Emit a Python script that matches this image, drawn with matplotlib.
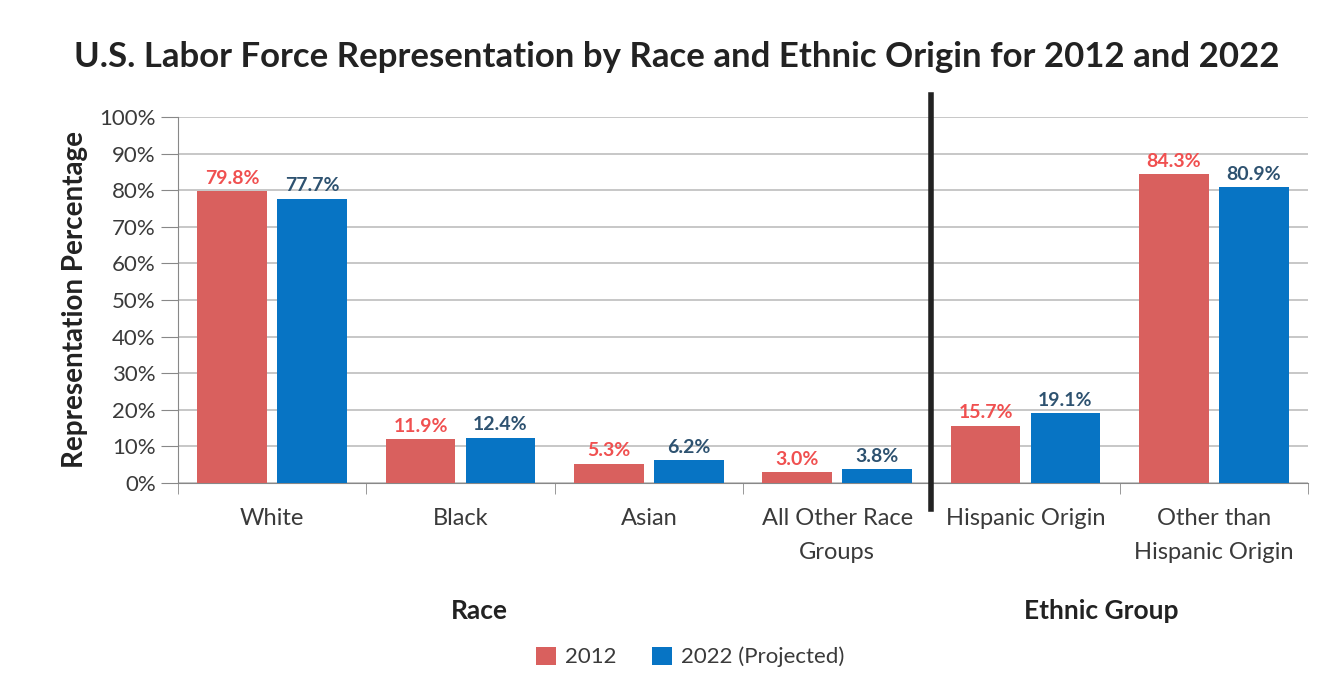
import matplotlib
matplotlib.use("Agg")
import matplotlib.pyplot as plt
import numpy as np

categories = ["White", "Black", "Asian", "All Other Race\nGroups", "Hispanic Origin", "Other than\nHispanic Origin"]
values_2012 = [79.8, 11.9, 5.3, 3.0, 15.7, 84.3]
values_2022 = [77.7, 12.4, 6.2, 3.8, 19.1, 80.9]
series_names = ["2012", "2022 (Projected)"]
group_names = ["Race", "Ethnic Group"]
yticks = [0, 10, 20, 30, 40, 50, 60, 70, 80, 90, 100]

plt.rcParams['font.family'] = ['Lato', 'DejaVu Sans']

C_RED = "#D9605E"
C_BLUE = "#0774C4"
L_RED = "#F05050"
L_BLUE = "#2E5270"
TXT = "#3A3A3A"

fig = plt.figure(figsize=(13.41, 6.98), dpi=100)
ax = fig.add_axes([178/1341, 1-483/698, (1308-178)/1341, (483-117)/698])

x = np.arange(len(categories))
w = 0.37
b1 = ax.bar(x - w/2 - 0.027, values_2012, w, color=C_RED, label=series_names[0], zorder=3)
b2 = ax.bar(x + w/2 + 0.027, values_2022, w, color=C_BLUE, label=series_names[1], zorder=3)

for rect, v in zip(b1, values_2012):
    ax.text(rect.get_x() + rect.get_width()/2, v + 1.2, f"{v:.1f}%", ha="center", va="bottom",
            color=L_RED, fontsize=14, fontweight="bold", zorder=4)
for rect, v in zip(b2, values_2022):
    ax.text(rect.get_x() + rect.get_width()/2, v + 1.2, f"{v:.1f}%", ha="center", va="bottom",
            color=L_BLUE, fontsize=14, fontweight="bold", zorder=4)

ax.set_xlim(-0.5, len(categories) - 0.5)
ax.set_ylim(0, 100)
ax.set_yticks(yticks)
ax.set_yticklabels([f"{t}%" for t in yticks], fontsize=16, color=TXT)
ax.yaxis.grid(True, color="#BDBDBD", linewidth=1.2, zorder=0)
ax.set_axisbelow(True)
ax.tick_params(axis="y", length=12, color="#888888", pad=4)
ax.set_xticks(x)
ax.set_xticklabels(categories, fontsize=17, color=TXT, linespacing=1.75)
ax.tick_params(axis="x", length=0, pad=18)
ax.set_xticks(np.arange(-0.5, len(categories)), minor=True)
ax.tick_params(axis="x", which="minor", length=8, color="#888888")
for s in ["top", "right"]:
    ax.spines[s].set_visible(False)
ax.spines["left"].set_color("#888888")
ax.spines["bottom"].set_color("#888888")

ax.set_ylabel("Representation Percentage", fontsize=20, fontweight="bold", color="#222222", labelpad=8)

# separator between race and ethnic groups
ax.plot([3.5, 3.5], [-7, 106], color="#222222", linewidth=4, clip_on=False, zorder=5)

# group labels
ax.text(1.1, -35, group_names[0], transform=ax.transData, ha="center", va="center",
        fontsize=19, fontweight="bold", color="#222222")
ax.text(4.4, -35, group_names[1], transform=ax.transData, ha="center", va="center",
        fontsize=19, fontweight="bold", color="#222222")

fig.suptitle("U.S. Labor Force Representation by Race and Ethnic Origin for 2012 and 2022",
             x=677/1341, y=1-57/698, va="center", fontsize=25, fontweight="bold", color="#222222")

fig.legend(handles=[b1, b2], labels=series_names, loc="center", bbox_to_anchor=(690/1341, 1-657/698),
           ncol=2, frameon=False, fontsize=16, handlelength=0.9, handleheight=0.9,
           handletextpad=0.4, columnspacing=1.6, labelcolor=TXT)

fig.savefig("out.png", dpi=100)
